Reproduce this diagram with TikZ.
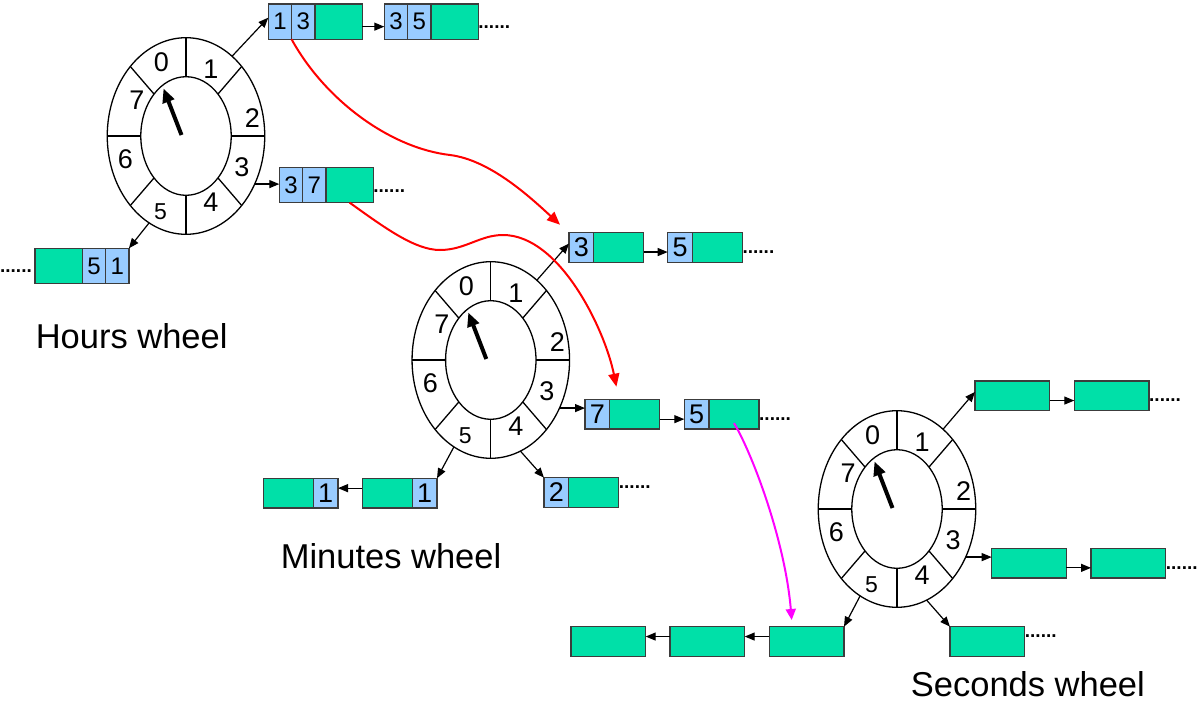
\documentclass[tikz,border=0pt]{standalone}
\usepackage{fontspec}
\setmainfont{Liberation Sans}
\usetikzlibrary{shapes.geometric,arrows.meta}
\definecolor{cgreen}{RGB}{0,224,168}
\definecolor{cblue}{RGB}{153,204,255}
\definecolor{bord}{RGB}{60,60,60}
\definecolor{cmag}{RGB}{255,0,255}
\definecolor{cred}{RGB}{255,0,0}
\tikzset{
  wheel/.style={ellipse, draw, line width=1.3pt, minimum width=157.5pt, minimum height=196.6pt, inner sep=0pt, outer sep=0pt},
  wl/.style={line width=1.3pt},
  wlab/.style={font=\fontsize{27}{30}\selectfont, inner sep=0pt},
  wlabs/.style={font=\fontsize{23}{26}\selectfont, inner sep=0pt},
  hand/.style={line width=4pt, -{Triangle[length=14pt,width=12pt]}},
  cellbase/.style={draw=bord, line width=1.3pt, inner sep=0pt, outer sep=0pt},
  hb/.style={cellbase, fill=cblue, minimum width=23.3pt, minimum height=35.3pt, font=\fontsize{24}{27}\selectfont},
  hg/.style={cellbase, fill=cgreen, minimum width=47.3pt, minimum height=35.3pt},
  mb/.style={cellbase, fill=cblue, minimum width=24.7pt, minimum height=29.7pt, font=\fontsize{27}{30}\selectfont},
  mg/.style={cellbase, fill=cgreen, minimum width=50pt, minimum height=29.7pt},
  sg/.style={cellbase, fill=cgreen, minimum width=74.7pt, minimum height=29.7pt},
  conn/.style={line width=1.2pt, -{Triangle[length=10pt,width=8pt]}},
  redc/.style={draw=cred, line width=2pt, -{Triangle[length=13pt,width=11pt]}},
  magc/.style={draw=cmag, line width=2pt, -{Triangle[length=11pt,width=10pt]}},
  dots/.style={font=\bfseries\fontsize{19}{22}\selectfont, inner sep=0pt},
  wtitle/.style={font=\fontsize{34.5}{40}\selectfont, inner sep=0pt, anchor=base west},
}
\newcommand\drawwheel[3]{%
  \node[wheel] (#1) at (#2,#3) {};
  \draw[wl] (#1.center) ellipse [x radius=45.2pt, y radius=59.3pt];
  \foreach \a in {0,45,...,315}
    \draw[wl] ([shift={(\a:45.2pt and 59.3pt)}]#1.center) -- ([shift={(\a:78.75pt and 98.3pt)}]#1.center);
  \node[wlab] (#1l0) at ([shift={(-24.5,-74)}]#1.center) {0};
  \node[wlab] (#1l1) at ([shift={(25,-66.5)}]#1.center) {1};
  \node[wlab] (#1l2) at ([shift={(66.5,-18)}]#1.center) {2};
  \node[wlab] (#1l3) at ([shift={(56,31.5)}]#1.center) {3};
  \node[wlab] (#1l4) at ([shift={(25,66.5)}]#1.center) {4};
  \node[wlabs] (#1l5) at ([shift={(-25.5,76)}]#1.center) {5};
  \node[wlab] (#1l6) at ([shift={(-60.5,23.5)}]#1.center) {6};
  \node[wlab] (#1l7) at ([shift={(-49,-35.5)}]#1.center) {7};
  \draw[hand] ([shift={(-4.5,-1)}]#1.center) -- ([shift={(-22.5,-47.5)}]#1.center);
}
\begin{document}
\begin{tikzpicture}[x=1pt,y=-1pt]
\useasboundingbox (0,0) rectangle (1200,728);

% ---------------- Hours wheel ----------------
\drawwheel{H}{186}{136}
\node[hb, anchor=north west] (h13a) at (268.3,4) {1};
\node[hb, anchor=west] (h13b) at (h13a.east) {3};
\node[hg, anchor=west] (h13c) at (h13b.east) {};
\node[hb, anchor=north west] (h35a) at (384.3,4) {3};
\node[hb, anchor=west] (h35b) at (h35a.east) {5};
\node[hg, anchor=west] (h35c) at (h35b.east) {};
\node[dots, anchor=base west] (h35d) at ([yshift=-6.4pt]h35c.east) {......};
\node[hb, anchor=north west] (h37a) at (279.3,167.3) {3};
\node[hb, anchor=west] (h37b) at (h37a.east) {7};
\node[hg, anchor=west] (h37c) at (h37b.east) {};
\node[dots, anchor=base west] (h37d) at ([yshift=-7.4pt]h37c.east) {......};
\node[hg, anchor=north west] (h51a) at (35,248.3) {};
\node[hb, anchor=west] (h51b) at (h51a.east) {5};
\node[hb, anchor=west] (h51c) at (h51b.east) {1};
\node[dots, anchor=base east] (h51d) at ([xshift=-3pt,yshift=-6.9pt]h51a.west) {......};
\draw[conn] (H.60) -- ([yshift=4pt]h13a.west);
\draw[conn] ([yshift=-5pt]h13c.east) -- ([yshift=-5pt]h35a.west);
\draw[conn] (H.-35) -- (H.-35 -| h37a.west);
\draw[conn] (H.247.5) -- (h51c.north east);
\node[wtitle] (Ht) at (35.6,348.3) {Hours wheel};

% ---------------- Minutes wheel ----------------
\drawwheel{M}{490.8}{360}
\node[mb, anchor=north west] (m3a) at (569,232.7) {3};
\node[mg, anchor=west] (m3b) at (m3a.east) {};
\node[mb, anchor=north west] (m5ta) at (667.7,232.7) {5};
\node[mg, anchor=west] (m5tb) at (m5ta.east) {};
\node[dots, anchor=base west] (m5td) at ([yshift=-5.9pt]m5tb.east) {......};
\node[mb, anchor=north west] (m7a) at (585,399.3) {7};
\node[mg, anchor=west] (m7b) at (m7a.east) {};
\node[mb, anchor=north west] (m5a) at (684.3,399.3) {5};
\node[mg, anchor=west] (m5b) at (m5a.east) {};
\node[dots, anchor=base west] (m5d) at ([yshift=-6.4pt]m5b.east) {......};
\node[mg, anchor=north west] (m1Aa) at (362.3,478.3) {};
\node[mb, anchor=west] (m1Ab) at (m1Aa.east) {1};
\node[mg, anchor=north west] (m1Ba) at (263.3,478.3) {};
\node[mb, anchor=west] (m1Bb) at (m1Ba.east) {1};
\node[mb, anchor=north west] (m2a) at (544,477.7) {2};
\node[mg, anchor=west] (m2b) at (m2a.east) {};
\node[dots, anchor=base west] (m2d) at ([yshift=3.6pt]m2b.east) {......};
\draw[conn] (M.60) -- ([yshift=4pt]m3a.west);
\draw[conn] ([yshift=-4.5pt]m3b.east) -- ([yshift=-4.5pt]m5ta.west);
\draw[conn] (M.-35) -- (M.-35 -| m7a.west);
\draw[conn] ([yshift=-5pt]m7b.east) -- ([yshift=-5pt]m5a.west);
\draw[conn] (M.247.5) -- (m1Ab.north east);
\draw[conn] ([yshift=5pt]m1Aa.west) -- ([yshift=5pt]m1Bb.east);
\draw[conn] (M.288) -- (m2a.north west);
\node[wtitle] (Mt) at (280.6,568.3) {Minutes wheel};

% ---------------- Seconds wheel ----------------
\drawwheel{S}{897}{509}
\node[sg, anchor=north west] (st1) at (975,381) {};
\node[sg, anchor=north west] (st2) at (1074.3,381) {};
\node[dots, anchor=base west] (std) at ([yshift=-6.1pt]st2.east) {......};
\node[sg, anchor=north west] (sm1) at (991.7,548.3) {};
\node[sg, anchor=north west] (sm2) at (1091,548.3) {};
\node[dots, anchor=base west] (smd) at ([yshift=-6.1pt]sm2.east) {......};
\node[sg, anchor=north west] (sbr) at (950,626.7) {};
\node[dots, anchor=base west] (sbrd) at ([yshift=3.6pt]sbr.east) {......};
\node[sg, anchor=north west] (sb1) at (769.3,626.7) {};
\node[sg, anchor=north west] (sb2) at (670,626.7) {};
\node[sg, anchor=north west] (sb3) at (571,626.7) {};
\draw[conn] (S.60) -- ([yshift=4pt]st1.west);
\draw[conn] ([yshift=-4.7pt]st1.east) -- ([yshift=-4.7pt]st2.west);
\draw[conn] (S.-35) -- (S.-35 -| sm1.west);
\draw[conn] ([yshift=-4.7pt]sm1.east) -- ([yshift=-4.7pt]sm2.west);
\draw[conn] (S.288) -- (sbr.north west);
\draw[conn] (S.247.5) -- (sb1.north east);
\draw[conn] ([yshift=5pt]sb1.west) -- ([yshift=5pt]sb2.east);
\draw[conn] ([yshift=5pt]sb2.west) -- ([yshift=5pt]sb3.east);
\node[wtitle] (St) at (910.7,696.7) {Seconds wheel};

% ---------------- cascade curves ----------------
\coordinate (r1end) at ([xshift=-9pt,yshift=8pt]m3a.north west);
\coordinate (r2end) at ([xshift=6.7pt,yshift=12.6pt]m7b.north west);
\coordinate (mend) at ([xshift=22.4pt,yshift=6.7pt]sb1.north west);
\draw[redc] (h13a.south east) .. controls (325,100) and (390,148) .. (450,155)
  .. controls (490,160) and (530,197) .. (r1end);
\draw[redc] (h37c.south) .. controls (385,228) and (415,250) .. (440,250)
  .. controls (465,250) and (480,235) .. (503,235)
  .. controls (560,235) and (605,330) .. (r2end);
\draw[magc] ([yshift=-9pt]m5b.center) .. controls (752,453) and (785,540) .. (mend);
\end{tikzpicture}
\end{document}
